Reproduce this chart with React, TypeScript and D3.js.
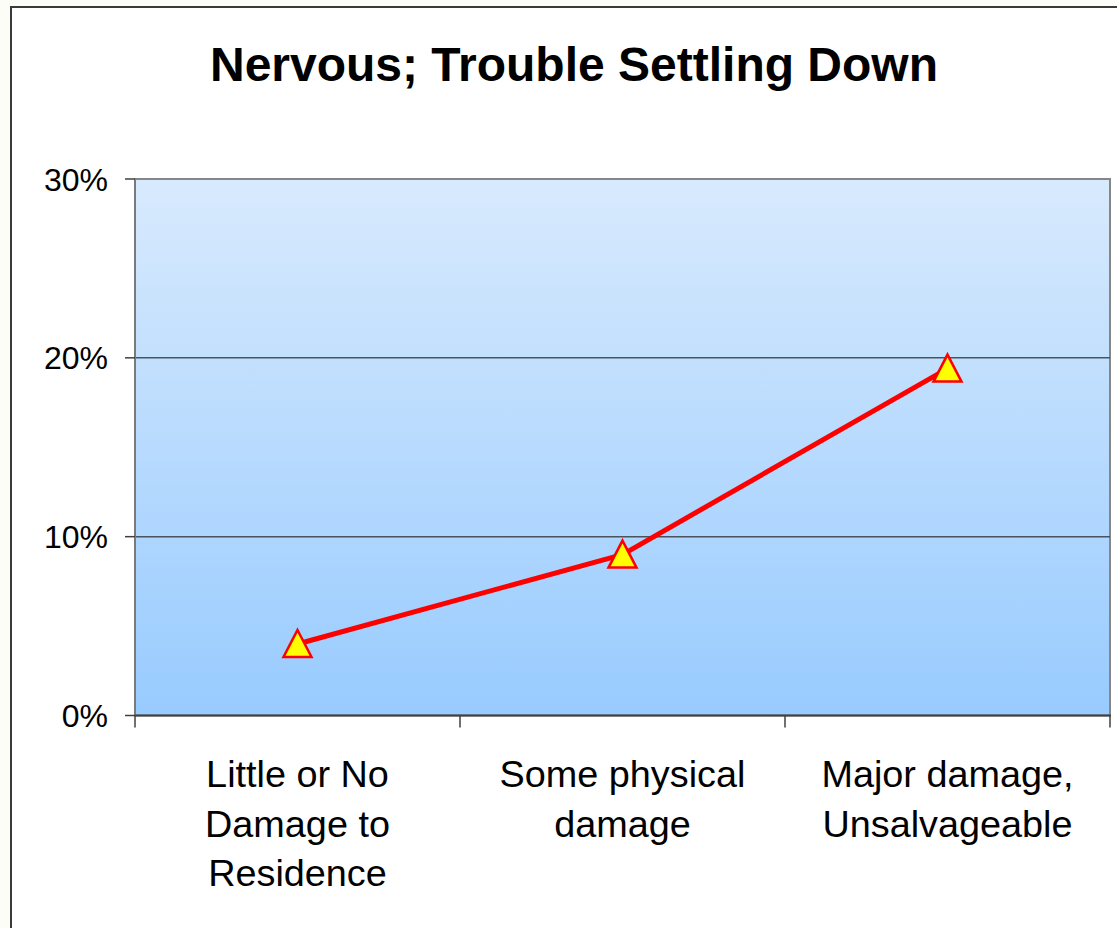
import React from "react";
import * as d3 from "d3";

const categories: string[][] = [
  ["Little or No", "Damage to", "Residence"],
  ["Some physical", "damage"],
  ["Major damage,", "Unsalvageable"],
];
const categoryKeys = ["little", "some", "major"];
const values = [0.04, 0.09, 0.194];
const yTicks = [0, 0.1, 0.2, 0.3];
const title = "Nervous; Trouble Settling Down";

const W = 1117;
const H = 928;
const left = 135;
const right = 1110;
const top = 179;
const bottom = 715.5;
const FONT = "'Liberation Sans', Arial, sans-serif";

export default function App() {
  const x = d3.scaleBand<string>().domain(categoryKeys).range([left, right]);
  const y = d3.scaleLinear().domain([0, 0.3]).range([bottom, top]);
  const cx = (i: number) => (x(categoryKeys[i]) as number) + x.bandwidth() / 2;
  const line = d3
    .line<number>()
    .x((_, i) => cx(i))
    .y((d) => y(d));
  const tri = (px: number, py: number) => {
    const p = d3.path();
    p.moveTo(px, py - 14);
    p.lineTo(px + 14, py + 13);
    p.lineTo(px - 14, py + 13);
    p.closePath();
    return p.toString();
  };
  const xTickPos = [...categoryKeys.map((k) => x(k) as number), right];

  return (
    <svg
      width={W}
      height={H}
      style={{ position: "absolute", left: 0, top: 0, display: "block" }}
    >
      <defs>
        <linearGradient id="bg" x1="0" y1="0" x2="0" y2="1">
          <stop offset="0" stopColor="#d8eafd" />
          <stop offset="1" stopColor="#98cbff" />
        </linearGradient>
      </defs>
      <rect x={0} y={0} width={W} height={H} fill="#fdfdf8" />
      <rect x={11} y={7} width={W + 20} height={H + 20} fill="#ffffff" stroke="#3a3a3a" strokeWidth={2} />
      <text
        x={574}
        y={81}
        textAnchor="middle"
        fontFamily={FONT}
        fontWeight="bold"
        fontSize={48}
        fill="#000"
      >
        {title}
      </text>
      <rect x={left} y={top} width={right - left} height={bottom - top} fill="url(#bg)" stroke="#868686" strokeWidth={2} />
      {yTicks.slice(1, 3).map((t) => (
        <line key={t} x1={left} x2={right} y1={y(t)} y2={y(t)} stroke="#4a525c" strokeWidth={1.5} />
      ))}
      <line x1={left} x2={left} y1={top} y2={bottom} stroke="#7a7a7a" strokeWidth={2} />
      <line x1={left} x2={right + 1} y1={bottom} y2={bottom} stroke="#404040" strokeWidth={2} />
      {yTicks.map((t) => (
        <g key={t}>
          <line x1={left - 10} x2={left} y1={y(t)} y2={y(t)} stroke="#404040" strokeWidth={1.5} />
          <text
            x={108}
            y={y(t) + 11.5}
            textAnchor="end"
            fontFamily={FONT}
            fontSize={32}
            fill="#000"
          >
            {`${Math.round(t * 100)}%`}
          </text>
        </g>
      ))}
      {xTickPos.map((p, i) => (
        <line key={i} x1={p} x2={p} y1={bottom} y2={bottom + 12} stroke="#404040" strokeWidth={1.5} />
      ))}
      {categories.map((lines, i) => (
        <text key={i} textAnchor="middle" fontFamily={FONT} fontSize={37.8} fill="#000">
          {lines.map((l, j) => (
            <tspan key={j} x={cx(i)} y={787 + j * 49.5}>
              {l}
            </tspan>
          ))}
        </text>
      ))}
      <path d={line(values) as string} fill="none" stroke="#ff0000" strokeWidth={5} strokeLinejoin="round" />
      {values.map((v, i) => (
        <path key={i} d={tri(cx(i), y(v))} fill="#ffff00" stroke="#ff0000" strokeWidth={2.5} strokeLinejoin="miter" />
      ))}
    </svg>
  );
}
